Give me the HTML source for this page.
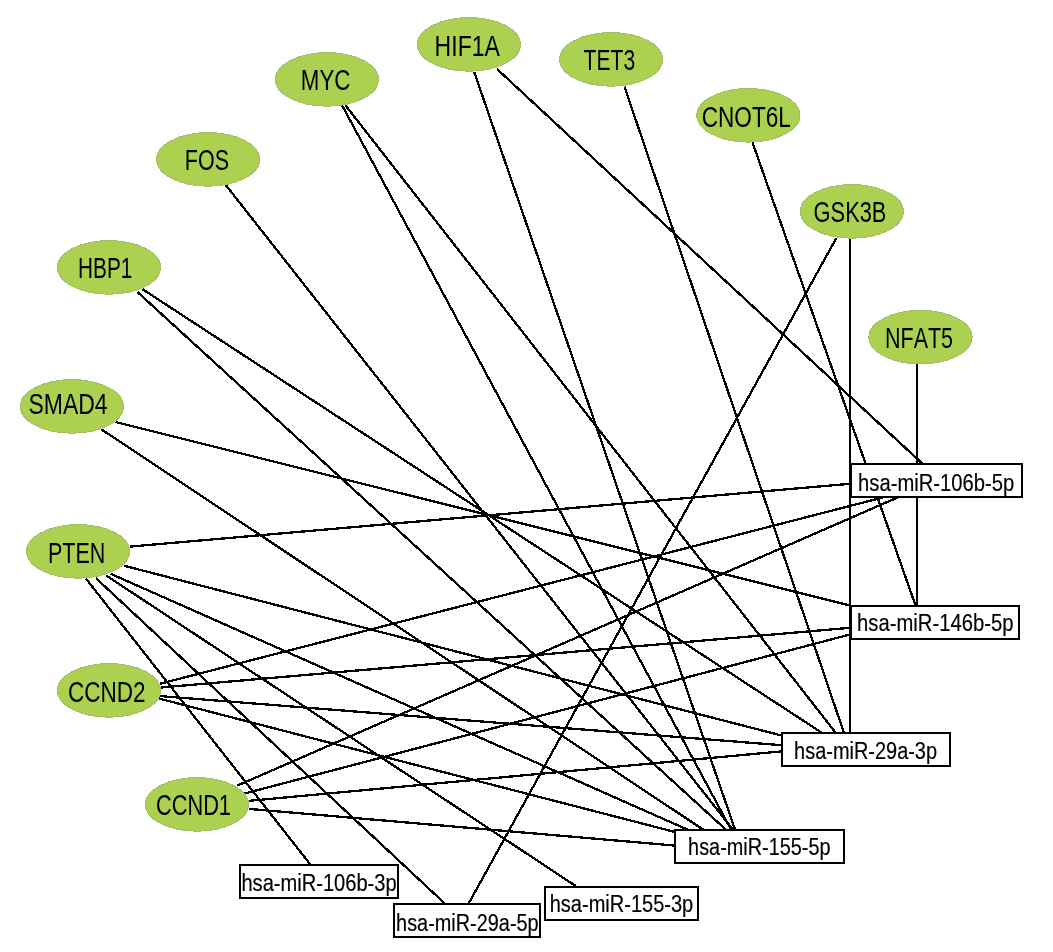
<!DOCTYPE html><html><head><meta charset="utf-8"><style>html,body{margin:0;padding:0;background:#fff;}svg{display:block;}text{font-family:"Liberation Sans",sans-serif;fill:#000;font-kerning:none;}.g{stroke:#000;stroke-width:0.0px}.b{stroke:#000;stroke-width:0.2px}</style></head><body>
<svg width="1053" height="952" viewBox="0 0 1053 952">
<rect width="1053" height="952" fill="#fff"/>
<g stroke="#000" stroke-width="2.3" fill="none" shape-rendering="crispEdges">
<line x1="474.1" y1="71.7" x2="735.0" y2="829.5"/>
<line x1="497.0" y1="69.0" x2="922.0" y2="463.3"/>
<line x1="624.5" y1="86.7" x2="844.0" y2="733.0"/>
<line x1="342.2" y1="105.5" x2="731.0" y2="829.5"/>
<line x1="345.2" y1="105.0" x2="835.9" y2="733.0"/>
<line x1="752.5" y1="142.5" x2="915.5" y2="605.4"/>
<line x1="225.9" y1="185.2" x2="732.8" y2="829.5"/>
<line x1="850.0" y1="238.7" x2="850.0" y2="733.0"/>
<line x1="836.3" y1="238.1" x2="468.8" y2="903.2"/>
<line x1="137.4" y1="292.0" x2="725.7" y2="829.5"/>
<line x1="142.5" y1="289.2" x2="822.2" y2="733.0"/>
<line x1="917.3" y1="364.4" x2="917.0" y2="605.4"/>
<line x1="115.6" y1="422.0" x2="850.4" y2="605.6"/>
<line x1="101.4" y1="429.4" x2="703.0" y2="829.5"/>
<line x1="130.1" y1="546.6" x2="849.9" y2="483.8"/>
<line x1="124.3" y1="565.8" x2="781.5" y2="735.5"/>
<line x1="110.7" y1="573.8" x2="687.2" y2="829.5"/>
<line x1="106.4" y1="575.6" x2="575.4" y2="885.8"/>
<line x1="95.9" y1="578.1" x2="444.5" y2="903.2"/>
<line x1="86.0" y1="578.7" x2="310.3" y2="864.4"/>
<line x1="159.8" y1="683.8" x2="884.7" y2="497.0"/>
<line x1="161.0" y1="687.5" x2="850.4" y2="627.8"/>
<line x1="160.4" y1="696.1" x2="781.5" y2="745.2"/>
<line x1="159.2" y1="698.6" x2="674.2" y2="831.8"/>
<line x1="237.3" y1="785.6" x2="898.7" y2="497.0"/>
<line x1="244.7" y1="793.5" x2="850.4" y2="634.4"/>
<line x1="248.4" y1="800.9" x2="781.5" y2="751.4"/>
<line x1="249.0" y1="808.9" x2="674.2" y2="845.5"/>
</g>
<g fill="#acd050" stroke="#a4bd6c" stroke-width="1" shape-rendering="crispEdges">
<ellipse cx="469.0" cy="44.4" rx="51.6" ry="26.8"/>
<ellipse cx="611.1" cy="59.4" rx="51.6" ry="26.8"/>
<ellipse cx="327.0" cy="79.4" rx="51.6" ry="26.8"/>
<ellipse cx="748.4" cy="115.3" rx="51.6" ry="26.8"/>
<ellipse cx="208.1" cy="159.4" rx="51.6" ry="26.8"/>
<ellipse cx="851.9" cy="211.4" rx="51.6" ry="26.8"/>
<ellipse cx="109.0" cy="267.4" rx="51.6" ry="26.8"/>
<ellipse cx="920.5" cy="337.2" rx="51.6" ry="26.8"/>
<ellipse cx="71.9" cy="406.4" rx="51.6" ry="26.8"/>
<ellipse cx="78.1" cy="551.4" rx="51.6" ry="26.8"/>
<ellipse cx="109.0" cy="690.4" rx="51.6" ry="26.8"/>
<ellipse cx="197.0" cy="804.4" rx="51.6" ry="26.8"/>
</g>
<g fill="#fff" stroke="#000" stroke-width="2" shape-rendering="crispEdges">
<rect x="851.00" y="464.00" width="171.00" height="33.00"/>
<rect x="851.00" y="606.00" width="168.00" height="33.00"/>
<rect x="782.00" y="733.00" width="168.00" height="33.00"/>
<rect x="675.00" y="830.00" width="169.00" height="33.00"/>
<rect x="240.00" y="865.00" width="158.00" height="33.00"/>
<rect x="394.00" y="904.00" width="146.00" height="33.00"/>
<rect x="545.00" y="887.00" width="153.00" height="33.00"/>
</g>
<g style="filter:grayscale(1)">
<text class="g" x="434.61" y="56.20" font-size="29.0" textLength="65.23" lengthAdjust="spacingAndGlyphs">HIF1A</text>
<text class="g" x="583.53" y="70.20" font-size="29.0" textLength="51.60" lengthAdjust="spacingAndGlyphs">TET3</text>
<text class="g" x="300.87" y="90.20" font-size="29.0" textLength="49.58" lengthAdjust="spacingAndGlyphs">MYC</text>
<text class="g" x="701.75" y="127.30" font-size="29.0" textLength="89.10" lengthAdjust="spacingAndGlyphs">CNOT6L</text>
<text class="g" x="184.84" y="170.20" font-size="29.0" textLength="44.15" lengthAdjust="spacingAndGlyphs">FOS</text>
<text class="g" x="813.60" y="221.90" font-size="29.0" textLength="72.85" lengthAdjust="spacingAndGlyphs">GSK3B</text>
<text class="g" x="78.09" y="278.20" font-size="29.0" textLength="54.32" lengthAdjust="spacingAndGlyphs">HBP1</text>
<text class="g" x="885.04" y="348.10" font-size="29.0" textLength="67.96" lengthAdjust="spacingAndGlyphs">NFAT5</text>
<text class="g" x="28.46" y="414.20" font-size="29.0" textLength="79.12" lengthAdjust="spacingAndGlyphs">SMAD4</text>
<text class="g" x="48.04" y="563.20" font-size="29.0" textLength="57.32" lengthAdjust="spacingAndGlyphs">PTEN</text>
<text class="g" x="67.96" y="702.40" font-size="29.0" textLength="77.58" lengthAdjust="spacingAndGlyphs">CCND2</text>
<text class="g" x="155.99" y="814.90" font-size="29.0" textLength="74.97" lengthAdjust="spacingAndGlyphs">CCND1</text>
<text class="b" x="858.10" y="490.50" font-size="24.2" textLength="156.05" lengthAdjust="spacingAndGlyphs">hsa-miR-106b-5p</text>
<text class="b" x="857.00" y="631.30" font-size="24.2" textLength="156.45" lengthAdjust="spacingAndGlyphs">hsa-miR-146b-5p</text>
<text class="b" x="794.12" y="759.00" font-size="24.2" textLength="142.92" lengthAdjust="spacingAndGlyphs">hsa-miR-29a-3p</text>
<text class="b" x="688.12" y="855.30" font-size="24.2" textLength="142.41" lengthAdjust="spacingAndGlyphs">hsa-miR-155-5p</text>
<text class="b" x="241.41" y="891.10" font-size="24.2" textLength="155.24" lengthAdjust="spacingAndGlyphs">hsa-miR-106b-3p</text>
<text class="b" x="396.12" y="930.50" font-size="24.2" textLength="142.51" lengthAdjust="spacingAndGlyphs">hsa-miR-29a-5p</text>
<text class="b" x="549.71" y="912.40" font-size="24.2" textLength="143.53" lengthAdjust="spacingAndGlyphs">hsa-miR-155-3p</text>
</g>
</svg></body></html>
